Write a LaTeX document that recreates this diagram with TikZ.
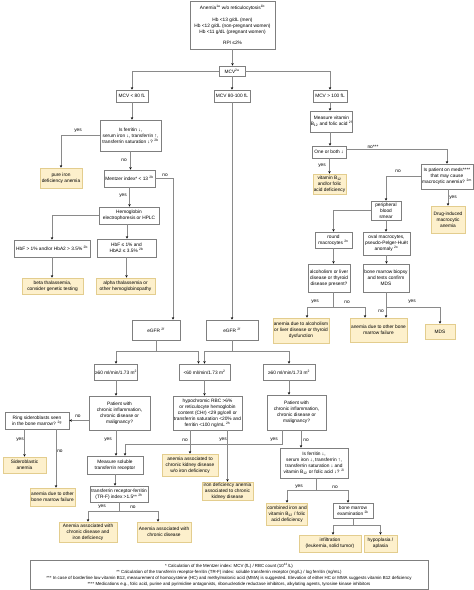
\documentclass[tikz,border=0pt]{standalone}
\usepackage{fontspec}
\setmainfont{Liberation Sans}
\usetikzlibrary{arrows.meta}
\definecolor{boxline}{HTML}{7F7F7F}
\definecolor{resfill}{HTML}{FDF0CC}
\definecolor{resline}{HTML}{E3CD8E}
\definecolor{conn}{HTML}{8A8A8A}
\newcommand{\sps}[1]{\textsuperscript{#1}}
\begin{document}
\begin{tikzpicture}[x=1pt,y=-1pt,
  box/.style={draw=boxline, fill=white, line width=0.6pt, inner sep=0.5pt, align=center, font=\fontsize{4.8}{6}\selectfont},
  res/.style={box, fill=resfill, draw=resline},
  arr/.style={draw=conn, line width=0.6pt, -{Stealth[length=2.6pt,width=2.4pt,black]}},
  lbl/.style={font=\fontsize{4.8}{6}\selectfont, inner sep=0pt},
  fn/.style={box, font=\fontsize{4.4}{6}\selectfont}]
\useasboundingbox (0,0) rectangle (474,590);

% ---------- nodes ----------
\node[box, minimum width=85, minimum height=48] (top) at (232.5,25)
  {Anemia\sps{1a} w/o reticulocytosis\sps{1b}\\[6pt]Hb <13 g/dL (men)\\Hb <12 g/dL (non-pregnant women)\\Hb <11 g/dL (pregnant women)\\[5pt]RPI ≤2\%};
\node[box, minimum width=26, minimum height=10] (mcv) at (232,71) {MCV\sps{2a}};
\node[box, minimum width=32, minimum height=12] (mcvL) at (132,96) {MCV < 80 fL};
\node[box, minimum width=36, minimum height=12] (mcvM) at (232,96) {MCV 80-100 fL};
\node[box, minimum width=34, minimum height=12] (mcvH) at (330,96) {MCV > 100 fL};

% left column
\node[box, minimum width=61, minimum height=31] (fer1) at (130.5,135.5)
  {Is ferritin ↓,\\serum iron ↓, transferrin ↑,\\transferrin saturation ↓? \sps{2b}};
\node[res, minimum width=42, minimum height=20] (pure) at (61,178) {pure iron\\deficiency anemia};
\node[box, minimum width=51, minimum height=17] (ment) at (129.5,178.5) {Mentzer index* < 13 \sps{2b}};
\node[box, minimum width=60, minimum height=17] (elec) at (129,215.5) {Hemoglobin\\electrophoresis or HPLC};
\node[box, minimum width=76, minimum height=17] (hbfH) at (52,248.5) {HbF > 1\% and/or HbA2 > 3.5\% \sps{2b}};
\node[box, minimum width=59, minimum height=18] (hbfL) at (126.5,248) {HbF ≤ 1\% and\\HbA2 ≤ 3.5\% \sps{2b}};
\node[res, minimum width=61, minimum height=16] (beta) at (52.5,286) {beta thalassemia,\\consider genetic testing};
\node[res, minimum width=59, minimum height=16] (alpha) at (125.5,286) {alpha thalassemia or\\other hemoglobinopathy};

% right column
\node[box, minimum width=39, minimum height=21] (meas) at (331.5,121.5) {Measure vitamin\\B\textsubscript{12} and folic acid \sps{2f}};
\node[box, minimum width=34, minimum height=12] (oneb) at (329,152) {One or both ↓};
\node[res, minimum width=33, minimum height=20] (vitb) at (329.5,184) {vitamin B\textsubscript{12}\\and/or folic\\acid deficiency};
\node[box, minimum width=52, minimum height=25] (meds) at (447,176.5) {Is patient on meds****\\that may cause\\macrocytic anemia? \sps{2m}};
\node[res, minimum width=34, minimum height=27] (drug) at (448,219.5) {Drug-induced\\macrocytic\\anemia};
\node[box, minimum width=30, minimum height=19] (perip) at (386,210.5) {peripheral\\blood\\smear};
\node[box, minimum width=37, minimum height=16] (round) at (333.5,240) {round\\macrocytes \sps{2n}};
\node[box, minimum width=47, minimum height=23] (oval) at (386.5,243.5) {oval macrocytes,\\pseudo-Pelger-Huët\\anomaly \sps{2o}};
\node[box, minimum width=42, minimum height=28] (alc) at (329,278) {alcoholism or liver\\disease or thyroid\\disease present?};
\node[box, minimum width=46, minimum height=28] (bmb) at (386,278) {bone marrow biopsy\\and tests confirm\\MDS};
\node[res, minimum width=56, minimum height=25] (alcres) at (301,330.5) {anemia due to alcoholism\\or liver disease or thyroid\\dysfunction};
\node[res, minimum width=57, minimum height=24] (bmfR) at (378.5,330) {anemia due to other bone\\marrow failure};
\node[res, minimum width=30, minimum height=15] (mds) at (440,331.5) {MDS};

% eGFR level
\node[box, minimum width=48, minimum height=20] (egfrL) at (156,330) {eGFR \sps{2f}};
\node[box, minimum width=52, minimum height=20] (egfrM) at (232,330) {eGFR \sps{2f}};
\node[box, minimum width=42, minimum height=16] (geL) at (116,372) {≥60 ml/min/1.73 m\sps{2}};
\node[box, minimum width=51, minimum height=16] (lt) at (204.5,372) {<60 ml/min/1.73 m\sps{2}};
\node[box, minimum width=52, minimum height=16] (geR) at (289,372) {≥60 ml/min/1.73 m\sps{2}};

\node[box, minimum width=61, minimum height=34] (patL) at (119.5,413) {Patient with\\chronic inflammation,\\chronic disease or\\malignancy?};
\node[box, minimum width=64, minimum height=17] (ring) at (37,420.5) {Ring sideroblasts seen\\in the bone marrow? \sps{2g}};
\node[box, minimum width=69, minimum height=34] (hypo) at (207.5,413) {hypochromic RBC >6\%\\or  reticulocyte hemoglobin\\content (CHr) <29 pg/cell or\\transferrin saturation <20\% and\\ferritin <100 ng/mL \sps{2h}};
\node[box, minimum width=59, minimum height=35] (patR) at (296.5,412.5) {Patient with\\chronic inflammation,\\chronic disease or\\malignancy?};

\node[res, minimum width=43, minimum height=16] (sidero) at (24.5,465) {Sideroblastic\\anemia};
\node[res, minimum width=45, minimum height=18] (bmfL) at (52.5,497) {anemia due to other\\bone marrow failure};
\node[box, minimum width=56, minimum height=18] (msr) at (115,465) {Measure soluble\\transferrin receptor};
\node[box, minimum width=58, minimum height=16] (trf) at (119,494) {transferrin receptor-ferritin\\(TR-F) index >1.5** \sps{2h}};
\node[res, minimum width=58, minimum height=20] (acdi) at (88,532) {Anemia associated with\\chronic disease and\\iron deficiency};
\node[res, minimum width=54, minimum height=20] (acd) at (164,532) {Anemia associated with\\chronic disease};
\node[res, minimum width=56, minimum height=22] (ckdno) at (190,465) {anemia associated to\\chronic kidney disease\\w/o iron deficiency};
\node[res, minimum width=51, minimum height=18] (ckdyes) at (227.5,491) {iron deficiency anemia\\associated to chronic\\kidney disease};
\node[box, minimum width=68, minimum height=30] (fer2) at (314,463) {Is ferritin ↓,\\serum iron ↓, transferrin ↑,\\transferrin saturation ↓ and\\vitamin B\textsubscript{12} or folic acid ↓? \sps{2i}};
\node[res, minimum width=40, minimum height=22] (comb) at (287,514) {combined iron and\\vitamin B\textsubscript{12} / folic\\acid deficiency};
\node[box, minimum width=40, minimum height=15] (bme) at (353,510.5) {bone marrow\\examination \sps{2k}};
\node[res, minimum width=62, minimum height=17] (infil) at (330,543.5) {infiltration\\(leukemia, solid tumor)};
\node[res, minimum width=33, minimum height=17] (hypop) at (380.5,543.5) {hypoplasia /\\aplasia};

\node[fn, minimum width=398, minimum height=29] (foot) at (229,574.5)
  {* Calculation of the Mentzer index: MCV (fL) / RBC count (10\sps{12}/L)\\
   ** Calculation of the transferrin receptor-ferritin (TR-F) index: soluble transferrin receptor (mg/L) / log ferritin (ng/mL)\\
   *** In case of borderline low vitamin B12, measurement of homocysteine (HC) and methylmalonic acid (MMA) is suggested. Elevation of either HC or MMA suggests vitamin B12 deficiency\\
   **** Medications e.g., folic acid, purine and pyrimidine antagonists, ribonucleotide reductase inhibitors, alkylating agents, tyrosine kinase inhibitors};

% ---------- connectors ----------
\draw[arr] (top.south) -- (top.south |- mcv.north);
\draw[arr] (mcv.west) -| (mcvL.north);
\draw[arr] (mcv.east) -| (mcvH.north);
\draw[arr] (mcv.south) -- (mcv.south |- mcvM.north);

\draw[arr] (mcvL.south) -- (mcvL.south |- fer1.north);
\draw[arr] (fer1.west) -| (pure.north);
\draw[arr] (fer1.south) -- (fer1.south |- ment.north);
\draw[arr] (ment.east) -| ([xshift=17pt]egfrL.north);
\draw[arr] (ment.south) -- (ment.south |- elec.north);
\draw[arr] (elec.west) -| (hbfH.north);
\draw[arr] ([xshift=-2pt]elec.south) -- ([xshift=-2pt]elec.south |- hbfL.north);
\draw[arr] (hbfH.south) -- (hbfH.south |- beta.north);
\draw[arr] (hbfL.south) -- (hbfL.south |- alpha.north);

\draw[arr] (mcvH.south) -- (mcvH.south |- meas.north);
\draw[arr] (mcvH.south |- meas.south) -- (mcvH.south |- oneb.north);
\draw[arr] (vitb.north |- oneb.south) -- (vitb.north);
\draw[arr] ([yshift=3pt]oneb.east) -| (meds.north);
\draw[arr] (meds.west) -| (perip.north);
\draw[arr] (drug.north |- meds.south) -- (drug.north);
\draw[arr] (perip.west) -| (round.north);
\draw[arr] (perip.south) -- (perip.south |- oval.north);
\draw[arr] (round.south) -- (round.south |- alc.north);
\draw[arr] (oval.south) -- (oval.south |- bmb.north);
\draw[arr] ([xshift=4pt]alc.south) -- ++(0,15) -| ([xshift=6pt]alcres.north);
\draw[arr] ([xshift=4pt]alc.south) -- ++(0,15) -| ([xshift=-13.5pt]bmfR.north);
\draw[arr] (bmb.south) -- (bmb.south |- bmfR.north);
\draw[arr] (bmb.south) -- ++(0,15) -| (mds.north);

\draw[arr] (mcvM.south) -- (mcvM.south |- egfrM.north);
\draw[arr] (egfrL.south) -- ++(0,11) -| (geL.north);
\draw[arr] (egfrL.south) -- ++(0,11) -| ([xshift=-6pt]lt.north);
\draw[arr] (egfrM.south) -- ++(0,11) -| (lt.north);
\draw[arr] (egfrM.south) -- ++(0,11) -| (geR.north);

\draw[arr] (geL.south) -- (geL.south |- patL.north);
\draw[arr] (lt.south) -- (lt.south |- hypo.north);
\draw[arr] (geR.south) -- (geR.south |- patR.north);

\draw[arr] (ring.east -| patL.west) -- (ring.east);
\draw[arr] (sidero.north |- ring.south) -- (sidero.north);
\draw[arr] ([xshift=19pt]ring.south) -- ([xshift=19pt]ring.south |- bmfL.north);
\draw[arr] ([xshift=-3.5pt]patL.south) -- ([xshift=-3.5pt]patL.south |- msr.north);
\draw[arr] ([xshift=-14.5pt]patR.south) -- ++(0,14) -| ([xshift=10pt]msr.north);
\draw[arr] ([xshift=4.5pt]patR.south) -- ([xshift=4.5pt]patR.south |- fer2.north);
\draw[arr] (ckdno.north |- hypo.south) -- (ckdno.north);
\draw[arr] (ckdyes.north |- hypo.south) -- (ckdyes.north);

\draw[arr] (msr.south) -- (msr.south |- trf.north);
\draw[arr] (trf.south) -- ++(0,9) -| (acdi.north);
\draw[arr] (trf.south) -- ++(0,9) -| ([xshift=-6pt]acd.north);

\draw[arr] ([xshift=2pt]fer2.south) -- ++(0,12) -| (comb.north);
\draw[arr] ([xshift=2pt]fer2.south) -- ++(0,12) -| ([xshift=-5pt]bme.north);
\draw[arr] (bme.south) -- ++(0,7) -| ([xshift=3pt]infil.north);
\draw[arr] (bme.south) -- ++(0,7) -| (hypop.north);

% ---------- labels ----------
\node[lbl] (y1) at (78,131) {yes};
\node[lbl] (n1) at (124,160) {no};
\node[lbl] (n2) at (165,175) {no};
\node[lbl] (y2) at (123,196) {yes};
\node[lbl] (n3) at (373,147) {no***};
\node[lbl] (y3) at (322,166) {yes};
\node[lbl] (n4) at (398,171) {no};
\node[lbl] (y4) at (453,198) {yes};
\node[lbl] (y5) at (315,302) {yes};
\node[lbl] (n5) at (347,302) {no};
\node[lbl] (n6) at (381,311) {no};
\node[lbl] (y6) at (412,302) {yes};
\node[lbl] (n7) at (78,416) {no};
\node[lbl] (y7) at (20,440) {yes};
\node[lbl] (n8) at (60,451) {no};
\node[lbl] (y8) at (108,440) {yes};
\node[lbl] (n9) at (185,440) {no};
\node[lbl] (y9) at (223,440) {yes};
\node[lbl] (y10) at (274,440) {yes};
\node[lbl] (n10) at (306,440) {no};
\node[lbl] (y11) at (102,507) {yes};
\node[lbl] (n11) at (133,507) {no};
\node[lbl] (y12) at (299,487) {yes};
\node[lbl] (n12) at (335,487) {no};
\end{tikzpicture}
\end{document}
